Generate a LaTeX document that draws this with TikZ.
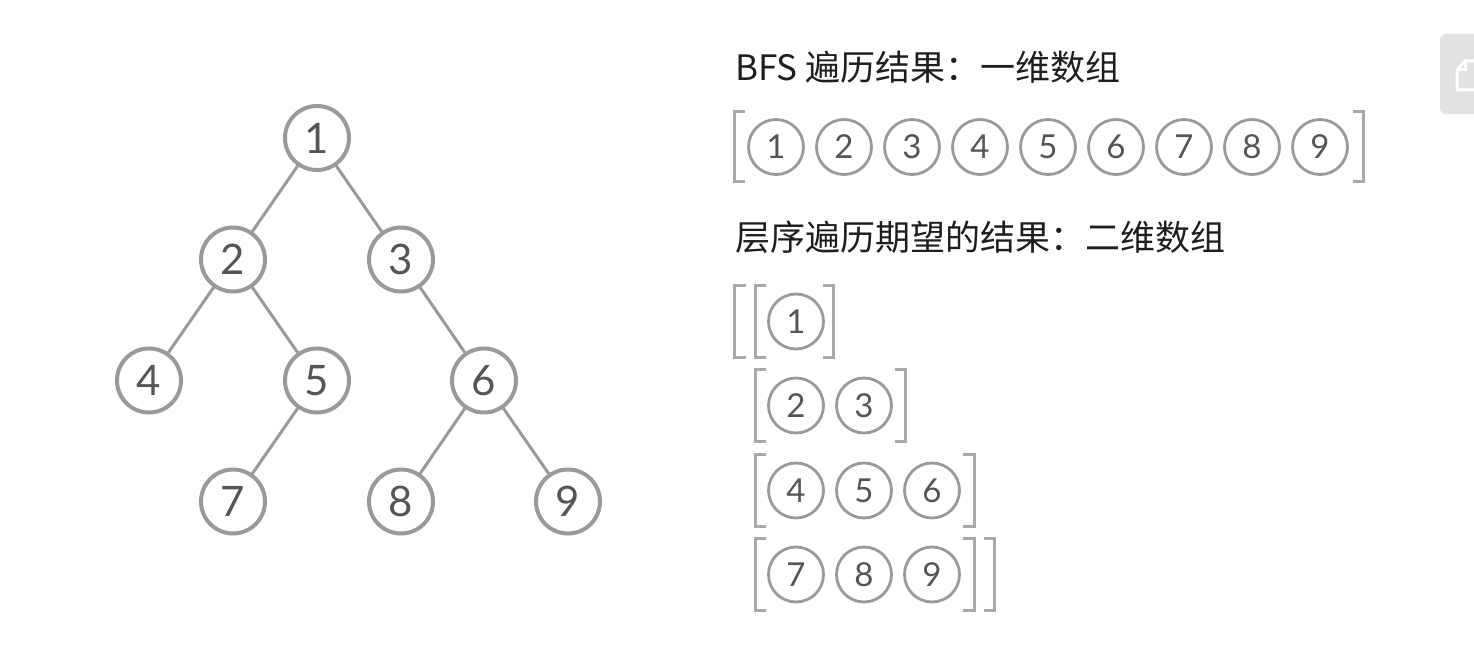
\documentclass[tikz,border=0pt]{standalone}
\usepackage{fontspec}
\setmainfont{Lato}
\newfontfamily\cjk{Noto Sans CJK SC}
\definecolor{ringgray}{HTML}{9A9A9A}
\definecolor{digitgray}{HTML}{555555}
\definecolor{boxgray}{HTML}{E2E2E2}
\definecolor{titleblack}{HTML}{1E1E1E}

\begin{document}
\begin{tikzpicture}[x=0.5pt,y=0.5pt]
\tikzstyle{treenode}=[circle,draw=ringgray,line width=2pt,minimum size=32pt,inner sep=0pt,text=digitgray,font=\fontsize{21pt}{21pt}\selectfont]
\tikzstyle{cell}=[circle,draw=ringgray,line width=1.4pt,minimum size=27.5pt,inner sep=0pt,text=digitgray,font=\fontsize{16.5pt}{16.5pt}\selectfont]
\tikzstyle{edge}=[draw=ringgray,line width=1.5pt]
\tikzstyle{bracket}=[draw=ringgray!85,line width=1.3pt]
\tikzstyle{title}=[anchor=west,inner sep=0pt,text=titleblack,font=\cjk\fontsize{17.5pt}{17.5pt}\selectfont]
\useasboundingbox (0,0) rectangle (1474,-646);
% binary tree
\node [treenode] (t1) at (317,-138) {1};
\node [treenode] (t2) at (233,-259.5) {2};
\node [treenode] (t3) at (401,-259.5) {3};
\node [treenode] (t4) at (149,-380.5) {4};
\node [treenode] (t5) at (317,-380.5) {5};
\node [treenode] (t6) at (484,-380.5) {6};
\node [treenode] (t7) at (233,-501.5) {7};
\node [treenode] (t8) at (401,-501.5) {8};
\node [treenode] (t9) at (568,-501.5) {9};
\draw [edge] (t1) -- (t2);
\draw [edge] (t1) -- (t3);
\draw [edge] (t2) -- (t4);
\draw [edge] (t2) -- (t5);
\draw [edge] (t3) -- (t6);
\draw [edge] (t5) -- (t7);
\draw [edge] (t6) -- (t8);
\draw [edge] (t6) -- (t9);
% BFS result
\node [title] (bfstitle) at (735,-67.5) {BFS 遍历结果：一维数组};
\node [cell] (b1) at (776,-147) {1};
\node [cell] (b2) at (844,-147) {2};
\node [cell] (b3) at (912,-147) {3};
\node [cell] (b4) at (980,-147) {4};
\node [cell] (b5) at (1048,-147) {5};
\node [cell] (b6) at (1116,-147) {6};
\node [cell] (b7) at (1184,-147) {7};
\node [cell] (b8) at (1252,-147) {8};
\node [cell] (b9) at (1320,-147) {9};
\draw [bracket] (745,-111.5) -- (734.5,-111.5) -- (734.5,-181.5) -- (745,-181.5);
\draw [bracket] (1353,-111.5) -- (1363.5,-111.5) -- (1363.5,-181.5) -- (1353,-181.5);
% level order result
\node [title] (leveltitle) at (735,-237.5) {层序遍历期望的结果：二维数组};
\node [cell] (l1) at (796,-321.5) {1};
\node [cell] (l2) at (796,-405.5) {2};
\node [cell] (l3) at (864,-405.5) {3};
\node [cell] (l4) at (796,-490.5) {4};
\node [cell] (l5) at (864,-490.5) {5};
\node [cell] (l6) at (932,-490.5) {6};
\node [cell] (l7) at (796,-574.5) {7};
\node [cell] (l8) at (864,-574.5) {8};
\node [cell] (l9) at (932,-574.5) {9};
\draw [bracket] (746,-285.5) -- (734.5,-285.5) -- (734.5,-357.5) -- (746,-357.5);
\draw [bracket] (766,-285.5) -- (755.5,-285.5) -- (755.5,-357.5) -- (766,-357.5);
\draw [bracket] (823,-285.5) -- (833.5,-285.5) -- (833.5,-357.5) -- (823,-357.5);
\draw [bracket] (766,-369.5) -- (755.5,-369.5) -- (755.5,-441.5) -- (766,-441.5);
\draw [bracket] (895,-369.5) -- (905.5,-369.5) -- (905.5,-441.5) -- (895,-441.5);
\draw [bracket] (766,-454.5) -- (755.5,-454.5) -- (755.5,-526.5) -- (766,-526.5);
\draw [bracket] (963,-454.5) -- (974.5,-454.5) -- (974.5,-526.5) -- (963,-526.5);
\draw [bracket] (766,-538.5) -- (755.5,-538.5) -- (755.5,-610.5) -- (766,-610.5);
\draw [bracket] (963,-538.5) -- (974.5,-538.5) -- (974.5,-610.5) -- (963,-610.5);
\draw [bracket] (984,-538.5) -- (994.5,-538.5) -- (994.5,-610.5) -- (984,-610.5);
% corner button
\fill [boxgray,rounded corners=3pt] (1440,-34) rectangle (1490,-114);
\draw [white,line width=1.5pt] (1474,-61) -- (1465,-61) -- (1457,-70) -- (1457,-90) -- (1474,-90);
\draw [white,line width=1.5pt] (1465,-61) -- (1465,-70) -- (1457,-70);
\end{tikzpicture}
\end{document}
